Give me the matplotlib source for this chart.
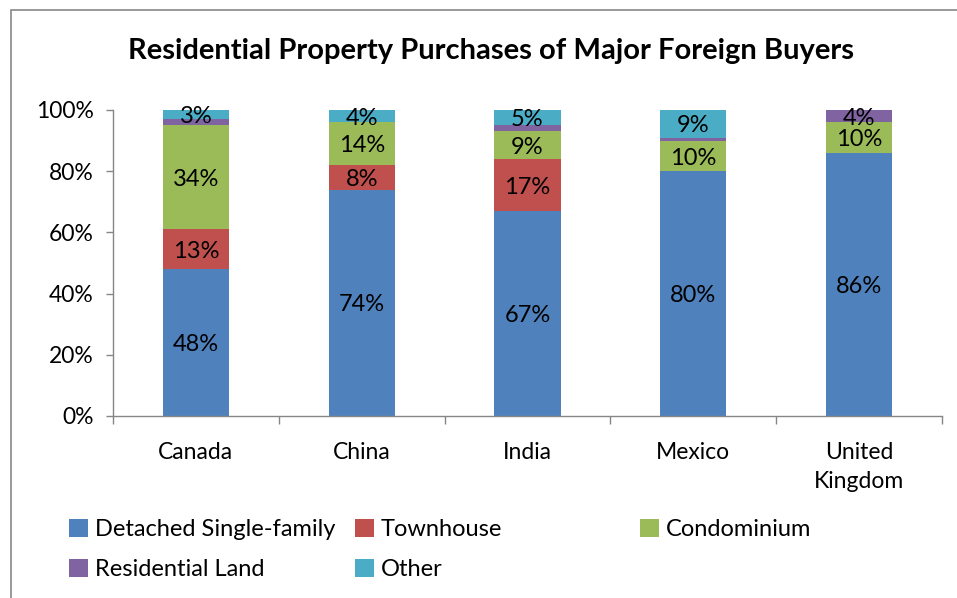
import numpy as np
import matplotlib
matplotlib.use("Agg")
import matplotlib.pyplot as plt
from matplotlib.patches import Rectangle, Patch

plt.rcParams['font.family'] = ['Lato', 'DejaVu Sans']

countries = ['Canada', 'China', 'India', 'Mexico', 'United\nKingdom']
series = ['Detached Single-family', 'Townhouse', 'Condominium', 'Residential Land', 'Other']
detached = [48, 74, 67, 80, 86]
townhouse = [13, 8, 17, 0, 0]
condo = [34, 14, 9, 10, 10]
land = [2, 0, 2, 1, 4]
other = [3, 4, 5, 9, 0]
colors = ['#4F81BD', '#C0504D', '#9BBB59', '#8064A2', '#4BACC6']

fig = plt.figure(figsize=(9.57, 5.98), dpi=100)
ax = fig.add_axes([113/957, 1 - 416/598, (942 - 113)/957, (416 - 110)/598])

x = np.arange(len(countries))
bottom = np.zeros(len(countries))
handles = []
for name, vals, col in zip(series, [detached, townhouse, condo, land, other], colors):
    vals = np.array(vals, dtype=float)
    ax.bar(x, vals, 0.4, bottom=bottom, color=col, label=name)
    for xi, v, b in zip(x, vals, bottom):
        if v >= 3:
            ax.text(xi, b + v / 2 - 0.7, f'{int(v)}%', ha='center', va='center', fontsize=17, color='black')
    bottom += vals
    handles.append(Patch(facecolor=col, label=name))

ax.set_xlim(-0.5, len(countries) - 0.5)
ax.set_ylim(0, 100)
ax.set_yticks(np.arange(0, 101, 20))
ax.set_yticklabels([f'{v}%' for v in range(0, 101, 20)], fontsize=16.5)
ax.set_xticks(x)
ax.set_xticklabels(countries, fontsize=16.5, linespacing=1.45)
ax.set_xticks(np.arange(-0.5, len(countries), 1), minor=True)
ax.tick_params(axis='x', which='major', length=0, pad=19)
ax.tick_params(axis='x', which='minor', length=6, color='#868686', width=1)
ax.tick_params(axis='y', length=5, color='#868686', width=1, pad=9)
for s in ['top', 'right']:
    ax.spines[s].set_visible(False)
for s in ['left', 'bottom']:
    ax.spines[s].set_color('#868686')
    ax.spines[s].set_linewidth(1)

fig.text(491/957, 1 - 51/598, 'Residential Property Purchases of Major Foreign Buyers',
         ha='center', va='center', fontsize=21, fontweight='bold')

# legend laid out in three columns, row by row
cols = [[handles[0], handles[3]], [handles[1], handles[4]], [handles[2]]]
col_x = [69, 355, 640]
for hs, cx in zip(cols, col_x):
    fig.legend(handles=hs, loc='upper left', bbox_to_anchor=(cx/957, 1 - 519/598),
               frameon=False, fontsize=17, handlelength=0.8, handleheight=0.8,
               handletextpad=0.3, labelspacing=0.8, borderaxespad=0, borderpad=0)

# outer chart border
fig.patches.append(Rectangle((10.5/957, -0.1), 1.2, 1.1 - 10.5/598,
                             transform=fig.transFigure, fill=False,
                             edgecolor='#888888', linewidth=1.2))

fig.savefig('out.png', dpi=100)
